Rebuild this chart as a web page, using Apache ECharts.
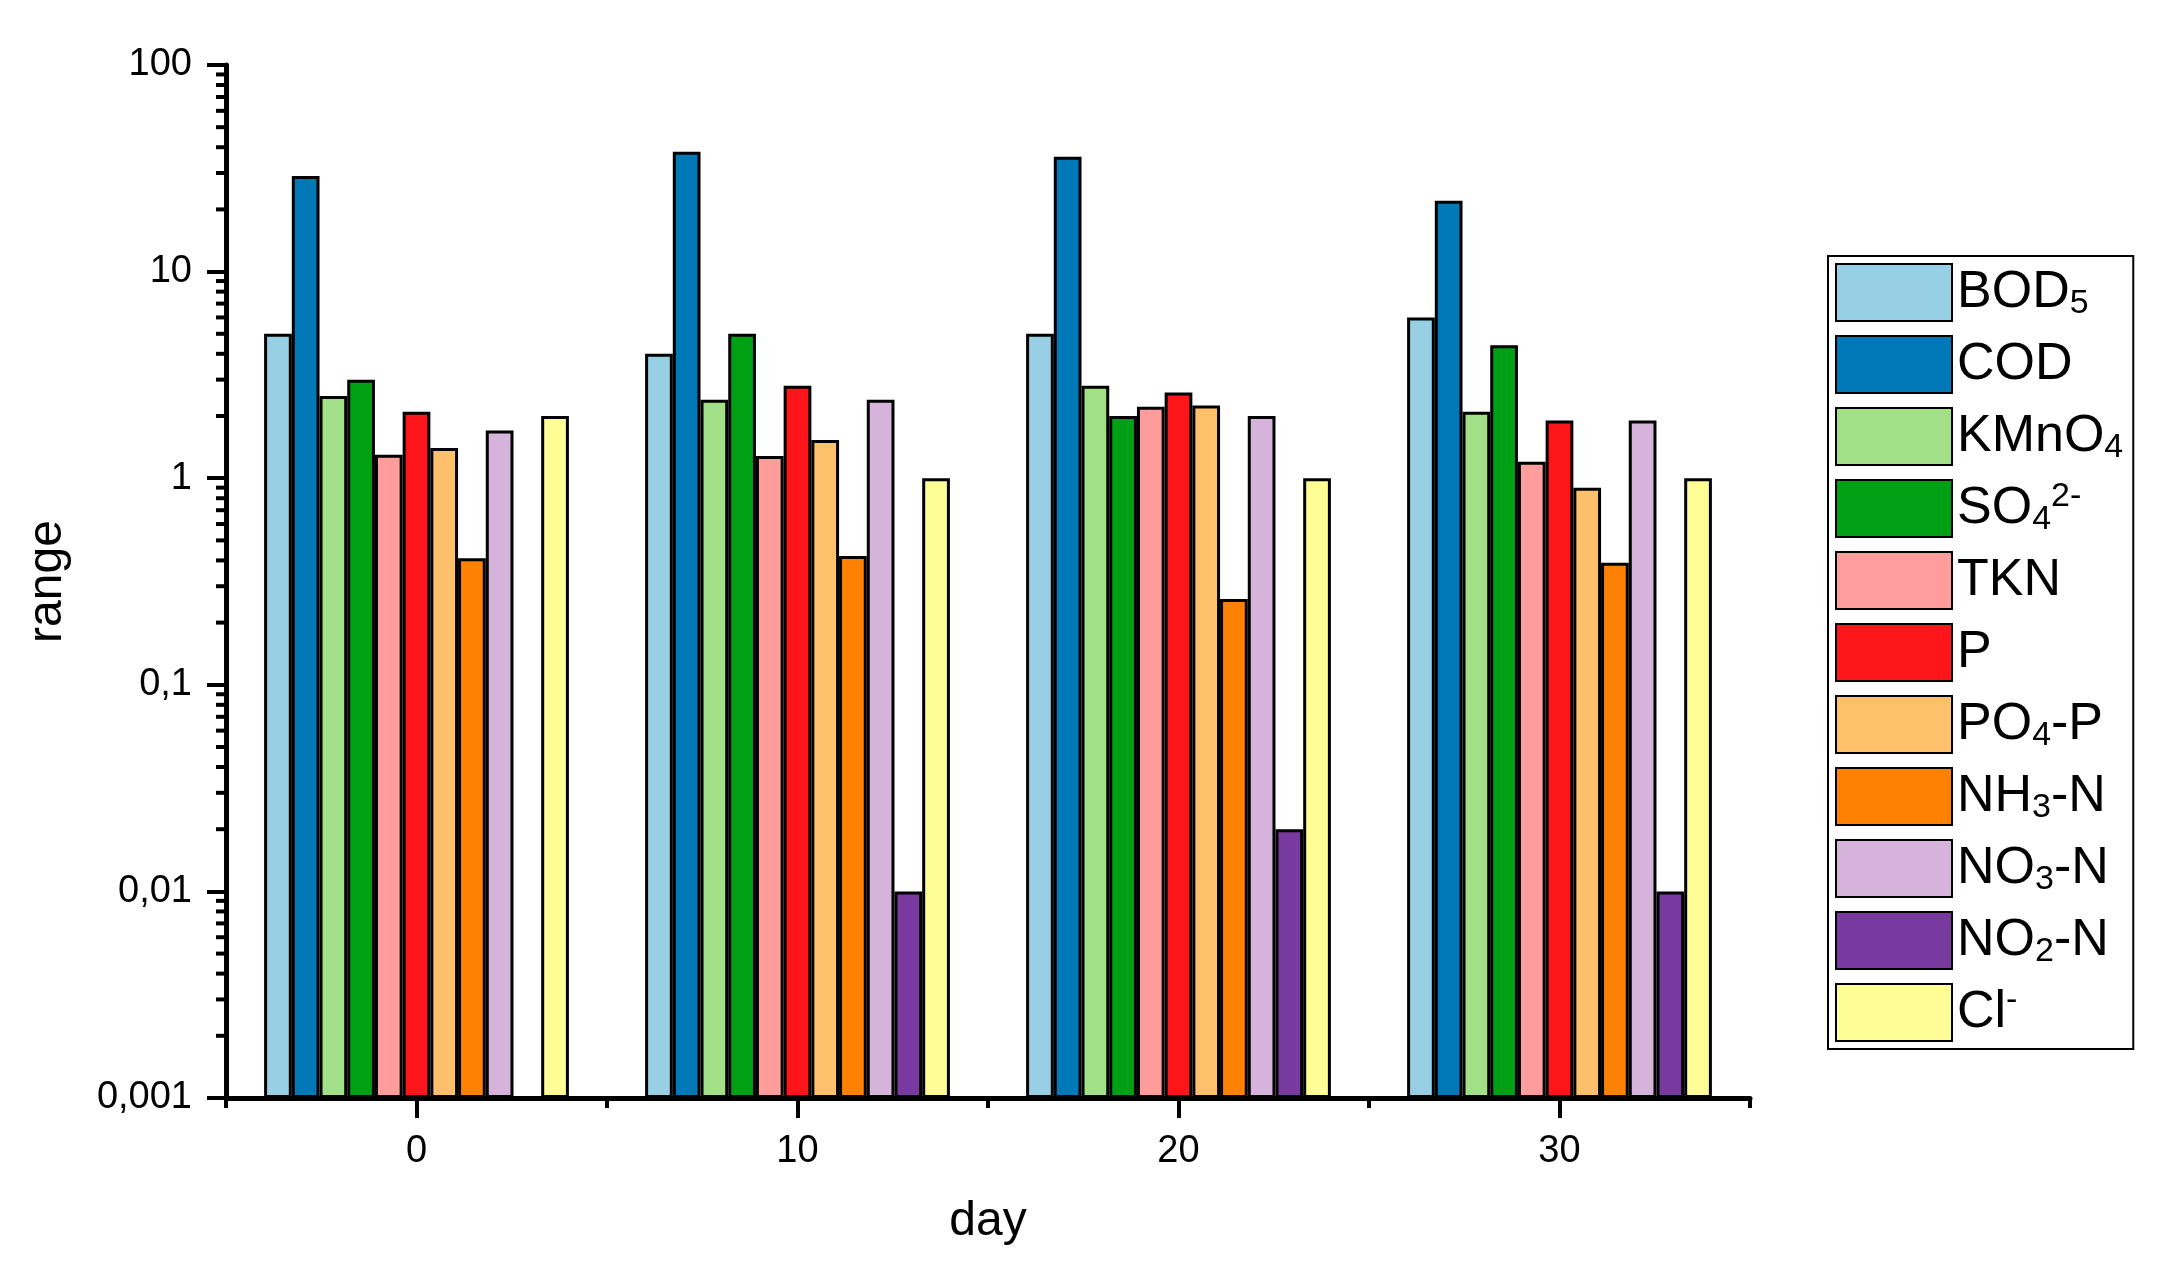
<!DOCTYPE html>
<html>
<head>
<meta charset="utf-8">
<script src="https://cdn.jsdelivr.net/npm/echarts@6/dist/echarts.min.js"></script>
<style>
html,body{margin:0;padding:0;background:#fff;}
#chart{width:2181px;height:1269px;}
</style>
</head>
<body>
<div id="chart"></div>
<script>
var days = ['0', '10', '20', '30'];
var seriesNames = ['BOD5', 'COD', 'KMnO4', 'SO42-', 'TKN', 'P', 'PO4-P', 'NH3-N', 'NO3-N', 'NO2-N', 'Cl-'];
var BOD5 = [5, 4, 5, 6];
var COD = [29, 38, 36, 22];
var KMnO4 = [2.5, 2.4, 2.8, 2.1];
var SO4 = [3, 5, 2, 4.4];
var TKN = [1.3, 1.28, 2.22, 1.2];
var P = [2.1, 2.8, 2.6, 1.9];
var PO4P = [1.4, 1.53, 2.25, 0.9];
var NH3N = [0.41, 0.42, 0.26, 0.39];
var NO3N = [1.7, 2.4, 2.0, 1.9];
var NO2N = [null, 0.01, 0.02, 0.01];
var Cl = [2, 1, 1, 1];
var yTickValues = [0.001, 0.01, 0.1, 1, 10, 100];
var yTickLabels = ['0,001', '0,01', '0,1', '1', '10', '100'];
var colors = ['#97CFE5', '#0178B7', '#A1E087', '#00A014', '#FF9C9C', '#FF161A', '#FFC06B', '#FF8101', '#D6B3DA', '#793A9F', '#FFFE96'];
var legendRich = {
  'BOD5': 'BOD{sub|5}', 'COD': 'COD', 'KMnO4': 'KMnO{sub|4}', 'SO42-': 'SO{sub|4}{sup|2-}',
  'TKN': 'TKN', 'P': 'P', 'PO4-P': 'PO{sub|4}-P', 'NH3-N': 'NH{sub|3}-N',
  'NO3-N': 'NO{sub|3}-N', 'NO2-N': 'NO{sub|2}-N', 'Cl-': 'Cl{sup|-}'
};
var allData = [BOD5, COD, KMnO4, SO4, TKN, P, PO4P, NH3N, NO3N, NO2N, Cl];

// logarithmic mapping: decades above the axis minimum (0.001)
var yMin = yTickValues[0];
function toLog(v) { return (v == null) ? null : Math.log10(v / yMin); }

// minor tick positions for the log axis (2..9 of every decade)
var minorTicks = [];
yTickValues.slice(0, -1).forEach(function (d) {
  for (var k = 2; k <= 9; k++) minorTicks.push([0, toLog(k * d)]);
});

var FONT = 'Liberation Sans, Arial, sans-serif';
var series = seriesNames.map(function (n, i) {
  return {
    name: n, type: 'bar', xAxisIndex: 0, data: allData[i].map(toLog),
    barGap: '0%', barCategoryGap: '20%',
    itemStyle: {color: colors[i], borderColor: '#000', borderWidth: 3},
    emphasis: {disabled: true}
  };
});
series.push({
  type: 'custom', xAxisIndex: 0, data: minorTicks, clip: false, silent: true, z: 5,
  renderItem: function (params, api) {
    var c = api.coord([api.value(0), api.value(1)]);
    var bw = api.size([1, 0])[0];
    var x0 = c[0] - bw / 2;
    return {type: 'line', shape: {x1: x0, y1: c[1], x2: x0 - 10, y2: c[1]}, style: {stroke: '#000', lineWidth: 4}};
  }
});

var chart = echarts.init(document.getElementById('chart'));
chart.setOption({
  animation: false,
  backgroundColor: '#fff',
  textStyle: {fontFamily: FONT},
  grid: {left: 226, right: 431, top: 65, bottom: 171, containLabel: false},
  legend: {
    data: seriesNames, orient: 'vertical', left: 1828, top: 256,
    padding: [7, 10, 7, 7], itemGap: 13, itemWidth: 116, itemHeight: 57, itemTextGap: 20,
    borderColor: '#000', borderWidth: 2, icon: 'rect',
    selectedMode: false,
    formatter: function (n) { return legendRich[n]; },
    textStyle: {
      fontSize: 52, color: '#000', fontFamily: FONT, lineHeight: 57,
      rich: {
        sub: {fontSize: 34, color: '#000', fontFamily: FONT, verticalAlign: 'bottom', lineHeight: 20},
        sup: {fontSize: 34, color: '#000', fontFamily: FONT, verticalAlign: 'top', lineHeight: 30}
      }
    }
  },
  xAxis: [{
    type: 'category', data: days, position: 'bottom',
    name: 'day', nameLocation: 'middle', nameGap: 100,
    nameTextStyle: {fontSize: 48, color: '#000', fontFamily: FONT},
    axisLine: {show: true, lineStyle: {color: '#000', width: 5}},
    axisTick: {show: true, alignWithLabel: true, length: 20, lineStyle: {color: '#000', width: 4}},
    axisLabel: {fontSize: 38, color: '#000', margin: 35, fontFamily: FONT},
    splitLine: {show: false}
  }, {
    type: 'category', data: days, position: 'bottom',
    axisLine: {show: false},
    axisTick: {show: true, interval: 0, length: 10, lineStyle: {color: '#000', width: 4}},
    axisLabel: {show: false}, splitLine: {show: false}
  }],
  yAxis: {
    type: 'value', min: 0, max: yTickValues.length - 1, interval: 1,
    name: 'range', nameLocation: 'middle', nameGap: 154, nameRotate: 90,
    nameTextStyle: {fontSize: 48, color: '#000', fontFamily: FONT},
    axisLine: {show: true, lineStyle: {color: '#000', width: 5}},
    axisTick: {show: true, length: 19, lineStyle: {color: '#000', width: 4}},
    axisLabel: {
      fontSize: 38, color: '#000', margin: 34, fontFamily: FONT,
      formatter: function (v) { return yTickLabels[Math.round(v)]; }
    },
    splitLine: {show: false}
  },
  series: series
});
</script>
</body>
</html>
